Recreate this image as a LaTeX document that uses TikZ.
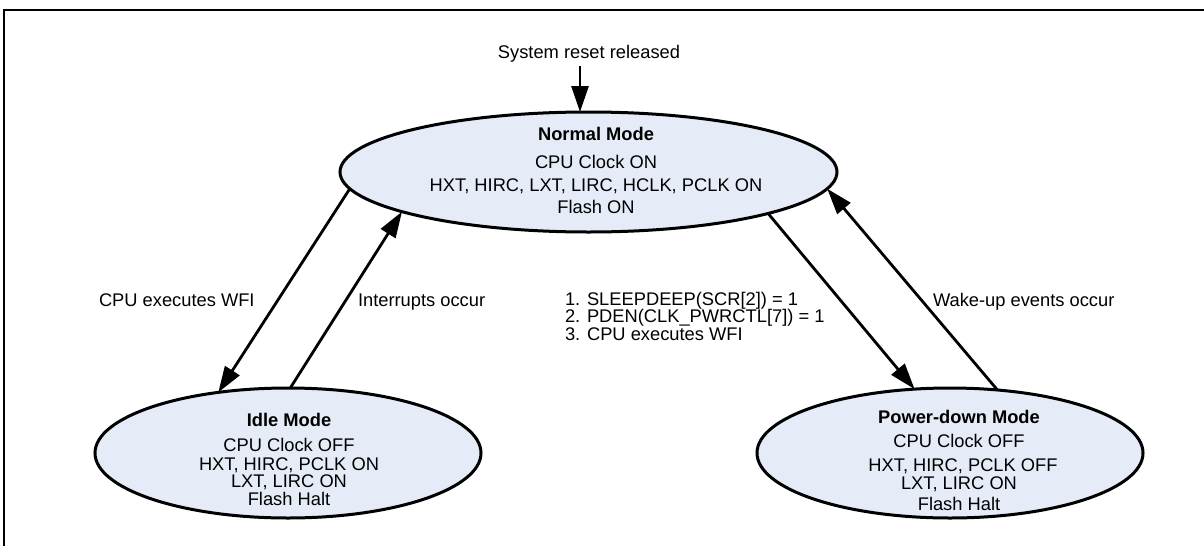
\documentclass[tikz,border=0pt]{standalone}
\usepackage{fontspec}
\setmainfont{Liberation Sans}
\usetikzlibrary{shapes.geometric,arrows.meta}
\definecolor{statefill}{RGB}{229,235,247}
\begin{document}
\begin{tikzpicture}[x=1pt,y=-1pt,
  state/.style={ellipse,draw=black,line width=3pt,fill=statefill,inner sep=0pt,outer sep=0pt},
  txt/.style={inner sep=0pt,outer sep=0pt,font=\fontsize{18.3pt}{18pt}\selectfont,anchor=base},
  ttl/.style={txt,font=\fontsize{18.3pt}{18pt}\selectfont\bfseries},
  lbl/.style={txt,anchor=base west},
  arr/.style={line width=2.8pt,-{Triangle[length=26pt,width=17pt]}},
  frameline/.style={line width=2pt}]
\useasboundingbox (0,0) rectangle (1204,546);
\draw[frameline] (3.5,546) -- (3.5,10) -- (1204,10);

% states
\node[state,minimum width=497pt,minimum height=120pt] (normal) at (588.5,172) {};
\node[state,minimum width=386pt,minimum height=130pt] (idle) at (288,453) {};
\node[state,minimum width=386pt,minimum height=130pt] (pd) at (950,453) {};

% state texts
\node[ttl] (nT) at (596,140) {Normal Mode};
\node[txt] (n1) at (596,168) {CPU Clock ON};
\node[txt] (n2) at (596,191) {HXT, HIRC, LXT, LIRC, HCLK, PCLK ON};
\node[txt] (n3) at (596,213) {Flash ON};

\node[ttl] (iT) at (289,426.7) {Idle Mode};
\node[txt] (i1) at (289,451.7) {CPU Clock OFF};
\node[txt] (i2) at (289,470) {HXT, HIRC, PCLK ON};
\node[txt] (i3) at (289,487.3) {LXT, LIRC ON};
\node[txt] (i4) at (289,505) {Flash Halt};

\node[ttl] (pT) at (959,423.3) {Power-down Mode};
\node[txt] (p1) at (959,447.3) {CPU Clock OFF};
\node[txt] (p2) at (963,471.7) {HXT, HIRC, PCLK OFF};
\node[txt] (p3) at (959,489.3) {LXT, LIRC ON};
\node[txt] (p4) at (959,510) {Flash Halt};

% labels
\node[txt] (reset) at (589,58) {System reset released};
\node[lbl] (lwfi) at (99,306.7) {CPU executes WFI};
\node[lbl] (lint) at (358,306) {Interrupts occur};
\node[lbl] (s1) at (565,305) {1. SLEEPDEEP(SCR[2]) = 1};
\node[lbl] (s2) at (565,322) {2. PDEN(CLK\_PWRCTL[7]) = 1};
\node[lbl] (s3) at (565,340) {3. CPU executes WFI};
\node[lbl] (lwake) at (933,306) {Wake-up events occur};

% connectors
\coordinate (rst) at (580,66);
\draw[arr] (rst) -- (rst |- normal.north);
\draw[arr] (normal.184.2) -- (idle.139.2);
\draw[arr] (idle.88.3) -- (normal.192.75);
\draw[arr] (normal.347.2) -- (pd.119.2);
\draw[arr] (pd.53.6) -- (normal.356.5);
\end{tikzpicture}
\end{document}
